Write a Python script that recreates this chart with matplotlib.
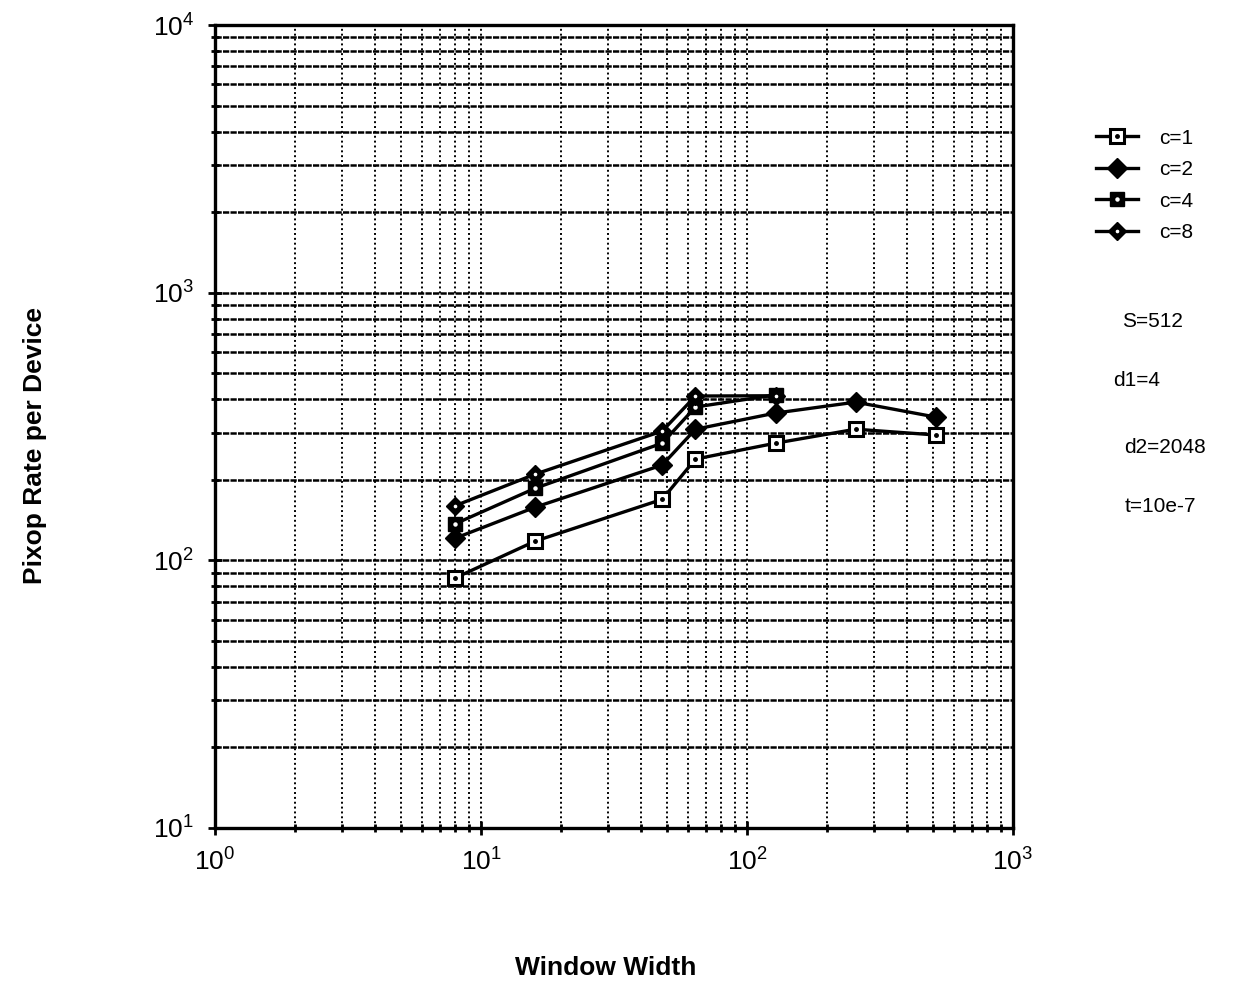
import matplotlib
matplotlib.use("Agg")
import matplotlib.pyplot as plt
from matplotlib.ticker import LogLocator, NullFormatter

plt.rcParams["font.family"] = ["Liberation Sans", "DejaVu Sans"]
plt.rcParams["mathtext.fontset"] = "custom"
plt.rcParams["mathtext.rm"] = "Liberation Sans"
plt.rcParams["mathtext.it"] = "Liberation Sans"

# window widths and pixop rates
width_full = [8, 16, 48, 64, 128, 256, 512]
width_c4 = [8, 16, 48, 64, 128]
width_c8 = [8, 16, 48, 64, 128]

rate_c1 = [86, 118, 169, 239, 274, 309, 294]
rate_c2 = [121, 158, 227, 309, 355, 390, 343]
rate_c4 = [137, 186, 274, 374, 415]
rate_c8 = [160, 210, 304, 411, 412]

labels = ["c=1", "c=2", "c=4", "c=8"]
params = ["S=512", "d1=4", "d2=2048", "t=10e-7"]

fig = plt.figure(figsize=(12.33, 9.89), dpi=100)
ax = fig.add_axes([0.1744, 0.1628, 0.6472, 0.8119])
ax.set_xscale("log")
ax.set_yscale("log")
ax.set_xlim(1, 1000)
ax.set_ylim(10, 10000)

ax.xaxis.set_major_locator(LogLocator(base=10))
ax.xaxis.set_minor_locator(LogLocator(base=10, subs=range(2, 10)))
ax.yaxis.set_major_locator(LogLocator(base=10))
ax.yaxis.set_minor_locator(LogLocator(base=10, subs=range(2, 10)))
ax.xaxis.set_minor_formatter(NullFormatter())
ax.yaxis.set_minor_formatter(NullFormatter())

# grid: heavy horizontal rules, dotted verticals
ax.grid(True, which="both", axis="y", color="black", lw=1.8, ls=(0, (2.5, 0.5)))
ax.grid(True, which="both", axis="x", color="black", lw=1.4, ls=(0, (1, 1.5)))
ax.set_axisbelow(True)

for s in ax.spines.values():
    s.set_linewidth(2.4)

ax.tick_params(which="both", direction="inout", width=2, colors="black")
ax.tick_params(which="major", length=10, labelsize=19, pad=10)
ax.tick_params(which="minor", length=6)

lw = 2.4
ms = 10
l1, = ax.plot(width_full, rate_c1, color="black", lw=lw, marker="s", ms=ms,
              mfc="white", mec="black", mew=2.2)
d1, = ax.plot(width_full, rate_c1, ls="none", marker="o", ms=2.5, mfc="black", mec="black")
l2, = ax.plot(width_full, rate_c2, color="black", lw=lw, marker="D", ms=ms,
              mfc="black", mec="black")
l4, = ax.plot(width_c4, rate_c4, color="black", lw=lw, marker="s", ms=ms,
              mfc="black", mec="black")
d4, = ax.plot(width_c4, rate_c4, ls="none", marker="o", ms=2.2, mfc="white", mec="white")
l8, = ax.plot(width_c8, rate_c8, color="black", lw=lw, marker="D", ms=ms - 1,
              mfc="black", mec="black")
d8, = ax.plot(width_c8, rate_c8, ls="none", marker="o", ms=1.6, mfc="white", mec="white")

fig.legend([(l1, d1), l2, (l4, d4), (l8, d8)], labels,
           loc="upper left", bbox_to_anchor=(0.874, 0.889), frameon=False,
           fontsize=15, handlelength=2.0, labelspacing=0.6, handletextpad=1.0)

param_pos = [(0.910, 0.675), (0.903, 0.615), (0.912, 0.548), (0.912, 0.488)]
for txt, (px, py) in zip(params, param_pos):
    fig.text(px, py, txt, fontsize=15, ha="left", va="center")

fig.text(0.491, 0.021, "Window Width", fontsize=19, fontweight="bold",
         ha="center", va="center")
fig.text(0.028, 0.55, "Pixop Rate per Device", fontsize=19, fontweight="bold",
         rotation=90, ha="center", va="center")

fig.savefig("out.png", dpi=100)
